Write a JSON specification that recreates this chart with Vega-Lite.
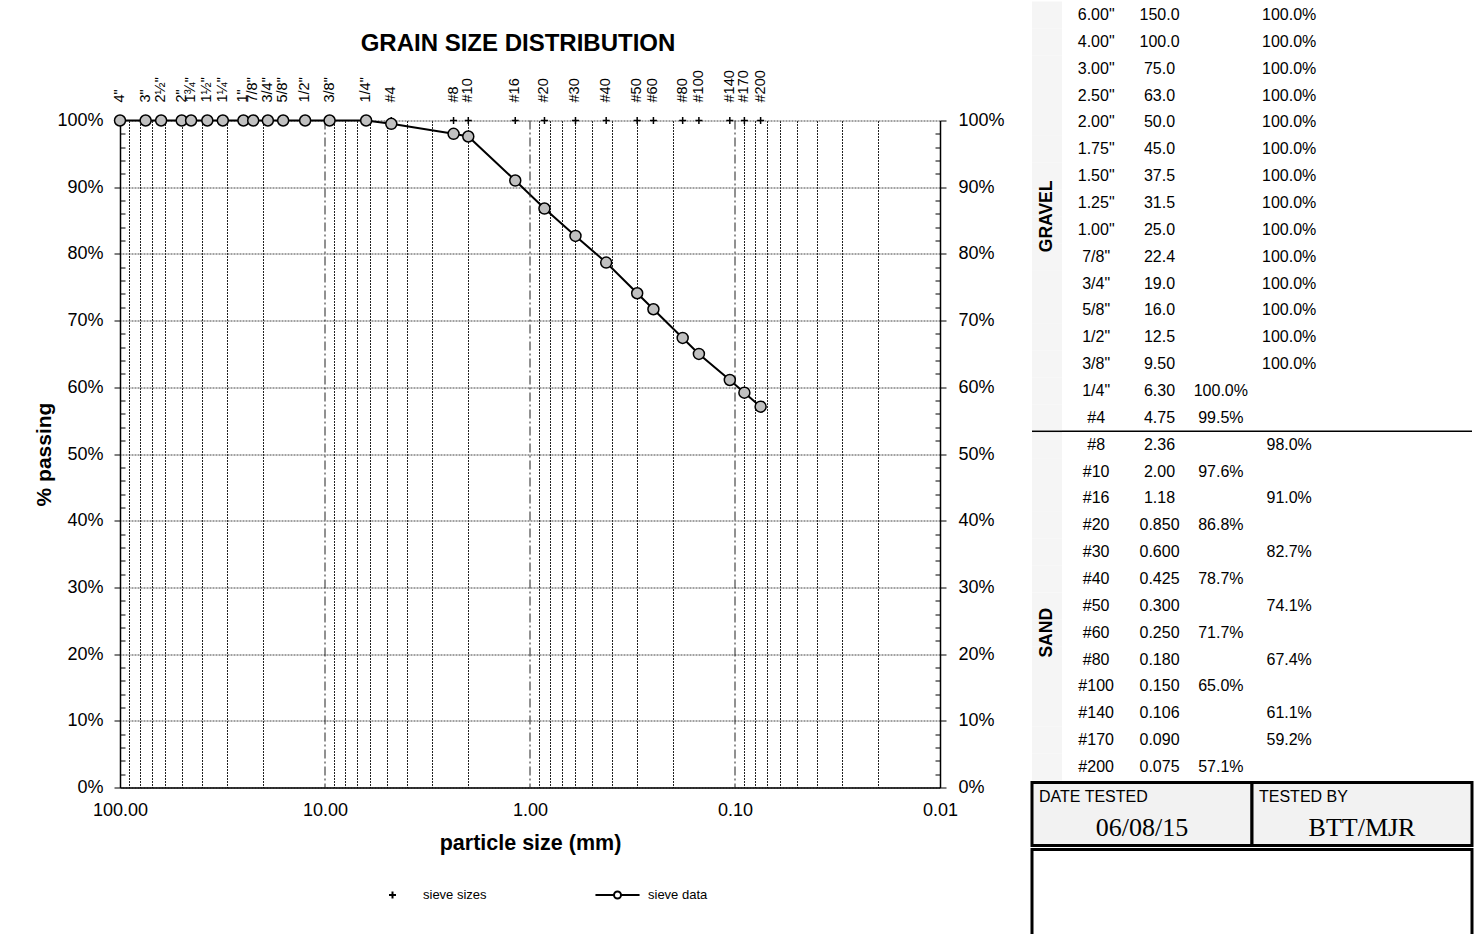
{
  "$schema": "https://vega.github.io/schema/vega-lite/v6.json",
  "background": "white",
  "padding": {"left": 33, "top": 1.5, "right": 0, "bottom": 0},
  "spacing": 25,
  "config": {
    "font": "Liberation Sans",
    "view": {"stroke": null},
    "axis": {"labelFont": "Liberation Sans", "labelColor": "black", "titleColor": "black", "titleFont": "Liberation Sans", "domainColor": "black", "tickColor": "black"},
    "text": {"font": "Liberation Sans", "color": "black"}
  },
  "resolve": {"scale": {"shape": "independent"}, "legend": {"shape": "independent"}},
  "datasets": {
    "sieves": [
      {"sieve": "4\"", "mm": 100, "passing": 100},
      {"sieve": "3\"", "mm": 75, "passing": 100},
      {"sieve": "2½\"", "mm": 63, "passing": 100},
      {"sieve": "2\"", "mm": 50, "passing": 100},
      {"sieve": "1¾\"", "mm": 45, "passing": 100},
      {"sieve": "1½\"", "mm": 37.5, "passing": 100},
      {"sieve": "1¼\"", "mm": 31.5, "passing": 100},
      {"sieve": "1\"", "mm": 25, "passing": 100},
      {"sieve": "7/8\"", "mm": 22.4, "passing": 100},
      {"sieve": "3/4\"", "mm": 19, "passing": 100},
      {"sieve": "5/8\"", "mm": 16, "passing": 100},
      {"sieve": "1/2\"", "mm": 12.5, "passing": 100},
      {"sieve": "3/8\"", "mm": 9.5, "passing": 100},
      {"sieve": "1/4\"", "mm": 6.3, "passing": 100},
      {"sieve": "#4", "mm": 4.75, "passing": 99.5},
      {"sieve": "#8", "mm": 2.36, "passing": 98.0},
      {"sieve": "#10", "mm": 2.0, "passing": 97.6},
      {"sieve": "#16", "mm": 1.18, "passing": 91.0},
      {"sieve": "#20", "mm": 0.85, "passing": 86.8},
      {"sieve": "#30", "mm": 0.6, "passing": 82.7},
      {"sieve": "#40", "mm": 0.425, "passing": 78.7},
      {"sieve": "#50", "mm": 0.3, "passing": 74.1},
      {"sieve": "#60", "mm": 0.25, "passing": 71.7},
      {"sieve": "#80", "mm": 0.18, "passing": 67.4},
      {"sieve": "#100", "mm": 0.15, "passing": 65.0},
      {"sieve": "#140", "mm": 0.106, "passing": 61.1},
      {"sieve": "#170", "mm": 0.09, "passing": 59.2},
      {"sieve": "#200", "mm": 0.075, "passing": 57.1}
    ],
    "decades": [{"mm": 10}, {"mm": 1}, {"mm": 0.1}],
    "table": [
      {"group": "GRAVEL", "sieve": "6.00\"", "mm": "150.0", "pct": 1.0, "set": "B"},
      {"group": "GRAVEL", "sieve": "4.00\"", "mm": "100.0", "pct": 1.0, "set": "B"},
      {"group": "GRAVEL", "sieve": "3.00\"", "mm": "75.0", "pct": 1.0, "set": "B"},
      {"group": "GRAVEL", "sieve": "2.50\"", "mm": "63.0", "pct": 1.0, "set": "B"},
      {"group": "GRAVEL", "sieve": "2.00\"", "mm": "50.0", "pct": 1.0, "set": "B"},
      {"group": "GRAVEL", "sieve": "1.75\"", "mm": "45.0", "pct": 1.0, "set": "B"},
      {"group": "GRAVEL", "sieve": "1.50\"", "mm": "37.5", "pct": 1.0, "set": "B"},
      {"group": "GRAVEL", "sieve": "1.25\"", "mm": "31.5", "pct": 1.0, "set": "B"},
      {"group": "GRAVEL", "sieve": "1.00\"", "mm": "25.0", "pct": 1.0, "set": "B"},
      {"group": "GRAVEL", "sieve": "7/8\"", "mm": "22.4", "pct": 1.0, "set": "B"},
      {"group": "GRAVEL", "sieve": "3/4\"", "mm": "19.0", "pct": 1.0, "set": "B"},
      {"group": "GRAVEL", "sieve": "5/8\"", "mm": "16.0", "pct": 1.0, "set": "B"},
      {"group": "GRAVEL", "sieve": "1/2\"", "mm": "12.5", "pct": 1.0, "set": "B"},
      {"group": "GRAVEL", "sieve": "3/8\"", "mm": "9.50", "pct": 1.0, "set": "B"},
      {"group": "GRAVEL", "sieve": "1/4\"", "mm": "6.30", "pct": 1.0, "set": "A"},
      {"group": "GRAVEL", "sieve": "#4", "mm": "4.75", "pct": 0.995, "set": "A"},
      {"group": "SAND", "sieve": "#8", "mm": "2.36", "pct": 0.98, "set": "B"},
      {"group": "SAND", "sieve": "#10", "mm": "2.00", "pct": 0.976, "set": "A"},
      {"group": "SAND", "sieve": "#16", "mm": "1.18", "pct": 0.91, "set": "B"},
      {"group": "SAND", "sieve": "#20", "mm": "0.850", "pct": 0.868, "set": "A"},
      {"group": "SAND", "sieve": "#30", "mm": "0.600", "pct": 0.827, "set": "B"},
      {"group": "SAND", "sieve": "#40", "mm": "0.425", "pct": 0.787, "set": "A"},
      {"group": "SAND", "sieve": "#50", "mm": "0.300", "pct": 0.741, "set": "B"},
      {"group": "SAND", "sieve": "#60", "mm": "0.250", "pct": 0.717, "set": "A"},
      {"group": "SAND", "sieve": "#80", "mm": "0.180", "pct": 0.674, "set": "B"},
      {"group": "SAND", "sieve": "#100", "mm": "0.150", "pct": 0.65, "set": "A"},
      {"group": "SAND", "sieve": "#140", "mm": "0.106", "pct": 0.611, "set": "B"},
      {"group": "SAND", "sieve": "#170", "mm": "0.090", "pct": 0.592, "set": "B"},
      {"group": "SAND", "sieve": "#200", "mm": "0.075", "pct": 0.571, "set": "A"}
    ],
    "tested": [
      {"label": "DATE TESTED", "value": "06/08/15"},
      {"label": "TESTED BY", "value": "BTT/MJR"}
    ]
  },
  "hconcat": [
    {
      "resolve": {"scale": {"shape": "independent"}, "legend": {"shape": "independent"}},
      "spacing": 0,
      "vconcat": [
        {
          "width": 820,
          "height": 68,
          "data": {"values": [{"title": "GRAIN SIZE DISTRIBUTION"}]},
          "mark": {"type": "text", "fontSize": 24, "fontWeight": "bold", "dx": -12, "dy": 8, "align": "center", "baseline": "middle"},
          "encoding": {"text": {"field": "title"}}
        },
        {
          "width": 820,
          "height": 667,
          "view": {"stroke": null},
          "resolve": {"scale": {"y": "independent"}},
          "layer": [
            {
              "data": {"name": "sieves"},
              "mark": {"type": "line", "color": "black", "strokeWidth": 2},
              "encoding": {
                "x": {
                  "field": "mm", "type": "quantitative",
                  "scale": {"type": "log", "domain": [0.01, 100], "reverse": true, "nice": false},
                  "axis": {
                    "orient": "bottom",
                    "values": [100, 90, 80, 70, 60, 50, 40, 30, 20, 10, 9, 8, 7, 6, 5, 4, 3, 2, 1, 0.9, 0.8, 0.7, 0.6, 0.5, 0.4, 0.3, 0.2, 0.1, 0.09, 0.08, 0.07, 0.06, 0.05, 0.04, 0.03, 0.02, 0.01],
                    "labelExpr": "indexof([100, 10, 1, 0.1, 0.01], datum.value) >= 0 ? format(datum.value, '.2f') : ''",
                    "labelOverlap": false, "labelFlush": false, "labelFontSize": 18, "labelPadding": 14,
                    "grid": true, "gridColor": "#222", "gridDash": [2, 1],
                    "gridOpacity": {"condition": {"test": "indexof([10, 1, 0.1], datum.value) >= 0", "value": 0}, "value": 1},
                    "ticks": false,
                    "domainWidth": 1.5,
                    "title": "particle size (mm)", "titleFontSize": 21.5, "titleFontWeight": "bold", "titlePadding": 13
                  }
                },
                "y": {
                  "field": "passing", "type": "quantitative",
                  "scale": {"domain": [0, 100], "nice": false},
                  "axis": {
                    "orient": "left",
                    "values": [0, 2, 4, 6, 8, 10, 12, 14, 16, 18, 20, 22, 24, 26, 28, 30, 32, 34, 36, 38, 40, 42, 44, 46, 48, 50, 52, 54, 56, 58, 60, 62, 64, 66, 68, 70, 72, 74, 76, 78, 80, 82, 84, 86, 88, 90, 92, 94, 96, 98, 100],
                    "labelExpr": "datum.value % 10 === 0 ? datum.value + '%' : ''",
                    "labelOverlap": false, "labelFlush": false, "labelFontSize": 18, "labelPadding": 11,
                    "grid": true, "gridColor": "#444", "gridDash": [2, 1],
                    "gridOpacity": {"condition": {"test": "datum.value % 10 === 0", "value": 1}, "value": 0},
                    "tickSize": {"condition": {"test": "datum.value % 10 === 0", "value": 6}, "value": -5},
                    "domainWidth": 1.5,
                    "title": "% passing", "titleFontSize": 21, "titleFontWeight": "bold", "titlePadding": 2
                  }
                }
              }
            },
            {
              "data": {"name": "decades"},
              "mark": {"type": "rule", "color": "#222", "strokeWidth": 1, "strokeDash": [9, 3, 2, 3]},
              "encoding": {
                "x": {"field": "mm", "type": "quantitative"}
              }
            },
            {
              "data": {"name": "sieves"},
              "mark": {"type": "point", "shape": "M-1,0H1M0,-1V1", "filled": false, "stroke": "black", "strokeWidth": 1.5, "size": 49, "opacity": 1},
              "encoding": {
                "x": {"field": "mm", "type": "quantitative"},
                "y": {"datum": 100, "type": "quantitative", "scale": {"domain": [0, 100], "nice": false}, "axis": null}
              }
            },
            {
              "data": {"name": "sieves"},
              "mark": {"type": "point", "filled": true, "fill": "#c0c0c0", "stroke": "black", "strokeWidth": 1.5, "size": 121, "opacity": 1},
              "encoding": {
                "x": {"field": "mm", "type": "quantitative"},
                "y": {
                  "field": "passing", "type": "quantitative",
                  "scale": {"domain": [0, 100], "nice": false},
                  "axis": {
                    "orient": "right",
                    "values": [0, 2, 4, 6, 8, 10, 12, 14, 16, 18, 20, 22, 24, 26, 28, 30, 32, 34, 36, 38, 40, 42, 44, 46, 48, 50, 52, 54, 56, 58, 60, 62, 64, 66, 68, 70, 72, 74, 76, 78, 80, 82, 84, 86, 88, 90, 92, 94, 96, 98, 100],
                    "labelExpr": "datum.value % 10 === 0 ? datum.value + '%' : ''",
                    "labelOverlap": false, "labelFlush": false, "labelFontSize": 18, "labelPadding": 12,
                    "grid": false,
                    "tickSize": {"condition": {"test": "datum.value % 10 === 0", "value": 6}, "value": -5},
                    "domainWidth": 1.5,
                    "title": null
                  }
                }
              }
            },
            {
              "data": {"name": "sieves"},
              "mark": {"type": "text", "angle": 270, "align": "left", "baseline": "middle", "dx": 18, "fontSize": 14.5, "color": "black"},
              "encoding": {
                "x": {"field": "mm", "type": "quantitative"},
                "y": {"datum": 100, "type": "quantitative", "scale": {"domain": [0, 100], "nice": false}, "axis": null},
                "text": {"field": "sieve"}
              }
            },
            {
              "data": {"values": [{"k": "sieve sizes"}, {"k": "sieve data"}]},
              "mark": {"type": "point", "opacity": 0},
              "encoding": {
                "shape": {
                  "field": "k", "type": "nominal",
                  "scale": {"domain": ["sieve sizes", "sieve data"], "range": ["M-1,0H1M0,-1V1", "M-6.3,0H-1M1,0H6.3M1,0A1,1,0,1,1,-1,0A1,1,0,1,1,1,0"]},
                  "legend": {
                    "title": null, "orient": "none", "legendX": 266, "legendY": 768, "direction": "horizontal", "columns": 2,
                    "symbolSize": 49, "symbolStrokeColor": "black", "symbolFillColor": "white", "symbolStrokeWidth": 2, "symbolOpacity": 1,
                    "labelFontSize": 13, "labelColor": "black", "labelOffset": 24, "columnPadding": 104
                  }
                }
              }
            }
          ]
        }
      ]
    },
    {
      "vconcat": [
        {
          "hconcat": [
            {
              "width": 30,
              "height": 779,
              "data": {"name": "table"},
              "layer": [
                {
                  "mark": {"type": "rect", "fill": "#f5f5f5"},
                  "encoding": {
                    "y": {"field": "sieve", "type": "nominal", "sort": null, "scale": {"type": "band", "paddingInner": 0, "paddingOuter": 0},
                      "axis": {"orient": "left", "labels": false, "ticks": false, "title": null, "domain": true, "domainWidth": 3, "domainColor": "black", "grid": false}}
                  }
                },
                {
                  "transform": [{"filter": "datum.sieve === '#8'"}],
                  "mark": {"type": "rule", "color": "black", "strokeWidth": 1.5},
                  "encoding": {"y": {"field": "sieve", "type": "nominal", "sort": null, "bandPosition": 0, "axis": null}}
                },
                {
                  "transform": [{"filter": "datum.sieve === '1.00\"'"}],
                  "mark": {"type": "text", "angle": 270, "align": "center", "baseline": "middle", "fontSize": 17.5, "fontWeight": "bold"},
                  "encoding": {"y": {"field": "sieve", "type": "nominal", "sort": null, "bandPosition": 0, "axis": null}, "text": {"field": "group"}}
                },
                {
                  "transform": [{"filter": "datum.sieve === '#60'"}],
                  "mark": {"type": "text", "angle": 270, "align": "center", "baseline": "middle", "fontSize": 17.5, "fontWeight": "bold"},
                  "encoding": {"y": {"field": "sieve", "type": "nominal", "sort": null, "bandPosition": 0.5, "axis": null}, "text": {"field": "group"}}
                }
              ]
            },
            {
              "width": 410,
              "height": 779,
              "data": {"name": "table"},
              "layer": [
                {
                  "mark": {"type": "text", "fontSize": 16, "align": "center", "baseline": "middle"},
                  "encoding": {
                    "x": {"datum": "sieve", "type": "nominal", "bandPosition": 0.5, "scale": {"type": "band", "domain": ["sieve", "mm", "A", "B", "C", "D"], "paddingInner": 0, "paddingOuter": 0}, "axis": null},
                    "y": {"field": "sieve", "type": "nominal", "sort": null, "scale": {"type": "band", "paddingInner": 0, "paddingOuter": 0},
                      "axis": {"orient": "right", "labels": false, "ticks": false, "title": null, "domain": true, "domainWidth": 4, "domainColor": "black", "grid": false}},
                    "text": {"field": "sieve"}
                  }
                },
                {
                  "mark": {"type": "text", "fontSize": 16, "align": "center", "baseline": "middle", "dx": -5},
                  "encoding": {
                    "x": {"datum": "mm", "type": "nominal", "bandPosition": 0.5, "axis": null},
                    "y": {"field": "sieve", "type": "nominal", "sort": null, "axis": null},
                    "text": {"field": "mm"}
                  }
                },
                {
                  "mark": {"type": "text", "fontSize": 16, "align": "center", "baseline": "middle", "dx": -12},
                  "encoding": {
                    "x": {"field": "set", "type": "nominal", "bandPosition": 0.5,
                      "axis": {"orient": "top", "labels": false, "ticks": false, "title": null, "domain": true, "domainWidth": 3, "domainColor": "black", "grid": false}},
                    "y": {"field": "sieve", "type": "nominal", "sort": null, "axis": null},
                    "text": {"field": "pct", "format": ".1%"}
                  }
                },
                {
                  "transform": [{"filter": "datum.sieve === '#8'"}],
                  "mark": {"type": "rule", "color": "black", "strokeWidth": 1.5},
                  "encoding": {"y": {"field": "sieve", "type": "nominal", "sort": null, "bandPosition": 0, "axis": null}}
                }
              ]
            }
          ],
          "spacing": 0,
          "bounds": "flush"
        },
        {
          "width": 440,
          "height": 63,
          "data": {"name": "tested"},
          "layer": [
            {
              "mark": {"type": "rect", "fill": "#f2f2f2", "stroke": "black", "strokeWidth": 3},
              "encoding": {"x": {"field": "label", "type": "nominal", "sort": null, "scale": {"type": "band", "paddingInner": 0, "paddingOuter": 0}, "axis": null}}
            },
            {
              "mark": {"type": "text", "align": "left", "baseline": "middle", "fontSize": 16, "dx": 7, "dy": -17},
              "encoding": {"x": {"field": "label", "type": "nominal", "sort": null, "bandPosition": 0, "axis": null}, "text": {"field": "label"}}
            },
            {
              "mark": {"type": "text", "align": "center", "baseline": "middle", "fontSize": 26, "font": "Liberation Serif", "dy": 14},
              "encoding": {"x": {"field": "label", "type": "nominal", "sort": null, "bandPosition": 0.5, "axis": null}, "text": {"field": "value"}}
            }
          ]
        },
        {
          "width": 440,
          "height": 89,
          "view": {"stroke": "black", "strokeWidth": 3, "fill": "white"},
          "data": {"values": [{"note": ""}]},
          "mark": {"type": "text"},
          "encoding": {"text": {"field": "note"}}
        }
      ],
      "spacing": 0
    }
  ]
}
